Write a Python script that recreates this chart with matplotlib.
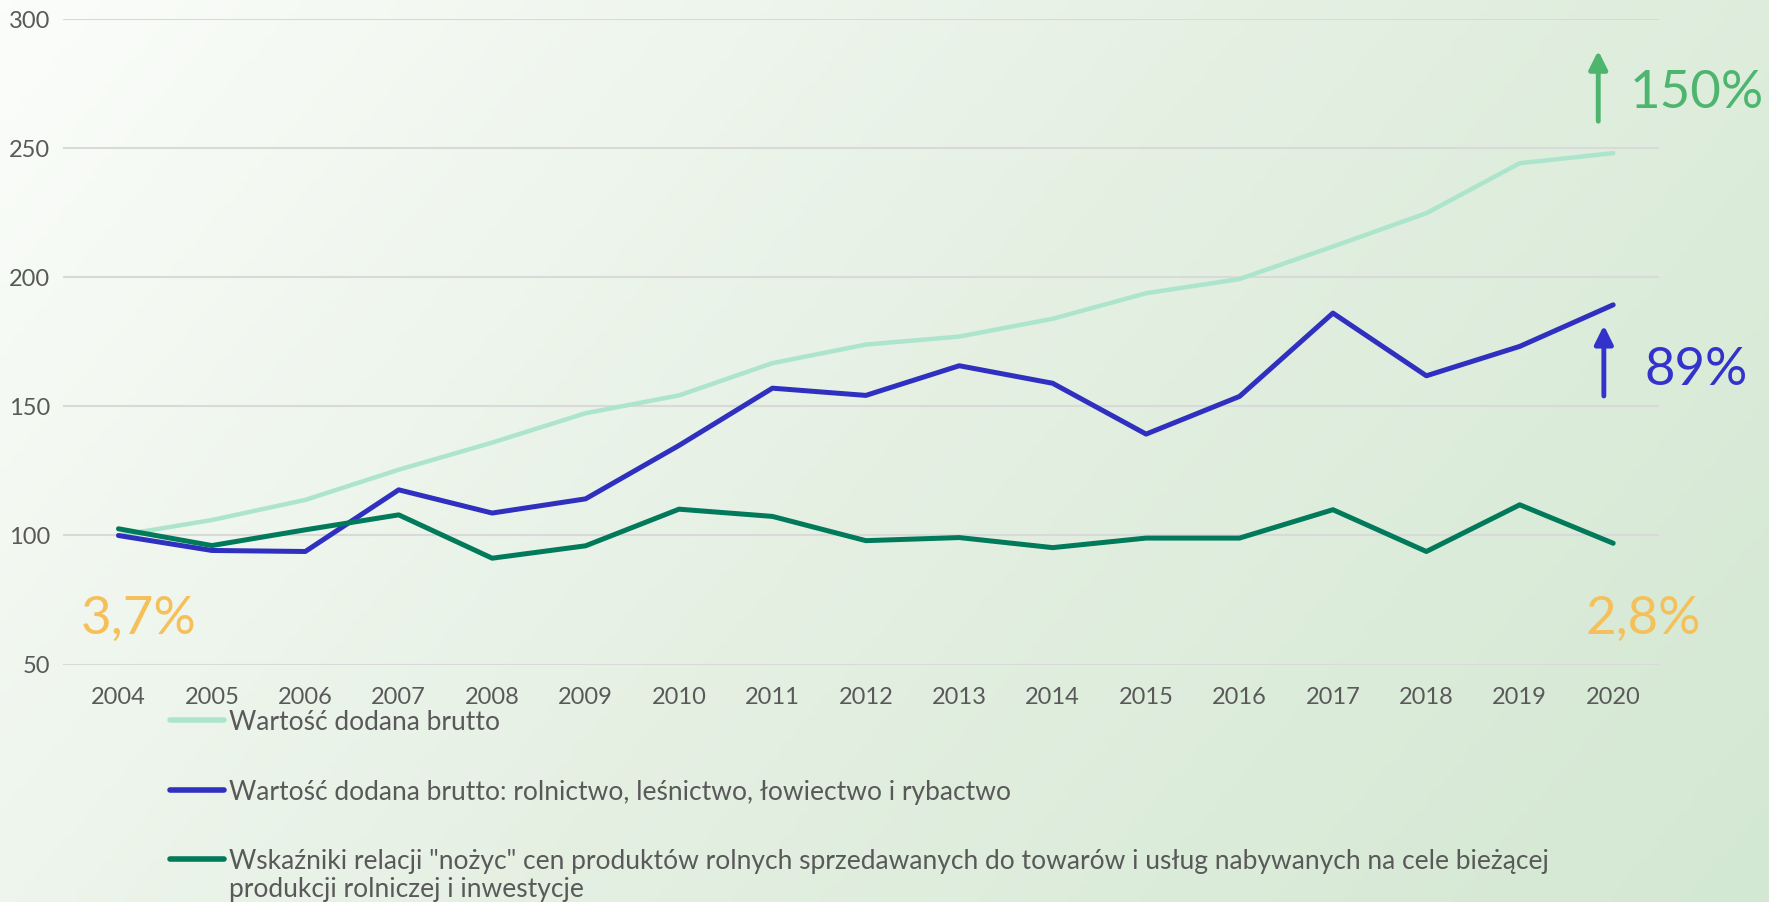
import numpy as np
import matplotlib
matplotlib.use("Agg")
import matplotlib.pyplot as plt
from matplotlib.lines import Line2D
from matplotlib.colors import LinearSegmentedColormap

plt.rcParams['font.family'] = ['Lato', 'DejaVu Sans']

# ---------------- DATA ---------------- #
years = [str(y) for y in range(2004, 2021)]

wdb_total = [100, 106, 113.8, 125.5, 136, 147.4, 154.3, 166.8, 174, 177.1,
             184, 193.9, 199.4, 212, 224.9, 244.3, 248.2]
wdb_agri = [100, 94.2, 93.8, 117.7, 108.7, 114.2, 134.9, 157.1, 154.3, 165.8,
            159, 139.3, 153.9, 186.2, 161.9, 173.3, 189.4]
scissors = [102.6, 96.1, 102.2, 108, 91.2, 96, 110.2, 107.4, 98, 99.2,
            95.3, 99, 99, 110, 93.8, 111.9, 97]

labels = [
    "Wartość dodana brutto",
    "Wartość dodana brutto: rolnictwo, leśnictwo, łowiectwo i rybactwo",
    "Wskaźniki relacji \"nożyc\" cen produktów rolnych sprzedawanych do towarów i usług nabywanych na cele bieżącej\nprodukcji rolniczej i inwestycje",
]
colors = ["#ACE5CB", "#3030C0", "#007A5A"]

# ---------------- FIGURE ---------------- #
fig = plt.figure(figsize=(17.69, 9.02), dpi=100)

# gradient background
bg = fig.add_axes([0, 0, 1, 1], zorder=-10)
gx, gy = np.meshgrid(np.linspace(0, 1, 300), np.linspace(0, 1, 150))
grad = (gx * 0.7 + gy * 0.3)
cmap = LinearSegmentedColormap.from_list("bg", ["#FBFDFA", "#E5F0E3", "#D3E8D2"])
bg.imshow(grad, cmap=cmap, aspect="auto", extent=[0, 1, 0, 1], origin="upper")
bg.axis("off")

ax = fig.add_axes([0.0356, 0.2633, 0.9022, 0.7151])
ax.set_facecolor("none")

x = np.arange(len(years))
ax.plot(x, wdb_total, color=colors[0], lw=3.2, solid_capstyle="round", zorder=3)
ax.plot(x, wdb_agri, color=colors[1], lw=3.6, solid_capstyle="round", zorder=4)
ax.plot(x, scissors, color=colors[2], lw=3.6, solid_capstyle="round", zorder=5)

ax.set_ylim(50, 300)
ax.set_yticks(range(50, 301, 50))
ax.set_xlim(-0.594, 16.49)
ax.set_xticks(x)
ax.set_xticklabels(years)
ax.grid(axis="y", color="#D9D9D9", lw=1.5)
ax.set_axisbelow(True)
for s in ax.spines.values():
    s.set_visible(False)
ax.tick_params(length=0, labelsize=17, colors="#595959")
ax.tick_params(axis="y", pad=9.4)
ax.tick_params(axis="x", pad=16)

# annotations
arrow_style = "-|>,head_width=0.55,head_length=1.1"
ax.annotate("", xy=(15.84, 289), xytext=(15.84, 259.5),
            arrowprops=dict(arrowstyle=arrow_style, color="#4DB56E", lw=3.5))
ax.text(16.18, 271.5, "150%", color="#4DB56E", fontsize=38, va="center", ha="left")

ax.annotate("", xy=(15.9, 182.5), xytext=(15.9, 153),
            arrowprops=dict(arrowstyle=arrow_style, color="#3333CC", lw=3.5))
ax.text(16.33, 164, "89%", color="#3333CC", fontsize=38, va="center", ha="left")

ax.text(-0.4, 67.5, "3,7%", color="#F5C05A", fontsize=38, va="center", ha="left")
ax.text(15.7, 67.5, "2,8%", color="#F5C05A", fontsize=38, va="center", ha="left")

# legend (manual, stacked)
W, H = 1769, 902
rows = [720, 790, 859]
for lab, col, yy in zip(labels, colors, rows):
    fig.add_artist(Line2D([170 / W, 224 / W], [1 - yy / H, 1 - yy / H],
                          color=col, lw=4, solid_capstyle="round"))
    fig.text(229 / W, 1 - (yy - 10) / H, lab, fontsize=19, color="#595959",
             va="top", ha="left", linespacing=1.17)

fig.savefig("out.png", dpi=100)
